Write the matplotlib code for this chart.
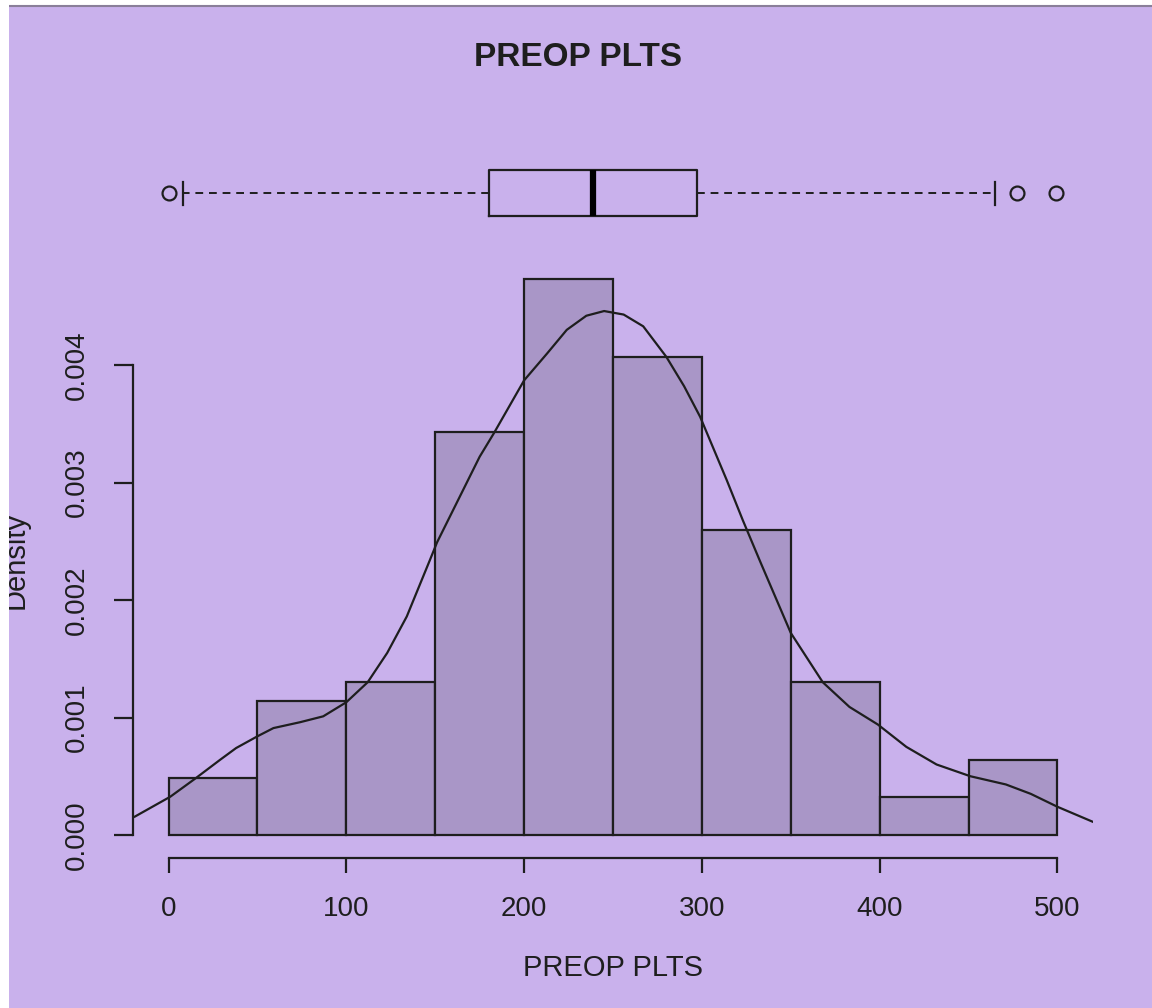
import matplotlib.pyplot as plt
from matplotlib.patches import Rectangle
from matplotlib.lines import Line2D

# данные гистограммы (плотность)
bin_edges = [0, 50, 100, 150, 200, 250, 300, 350, 400, 450, 500]
densities = [0.000485, 0.00114, 0.0013, 0.00343, 0.00473, 0.00407, 0.0026, 0.0013, 0.000323, 0.00064]

# кривая плотности (kde)
kde_x = [-19, 1, 15, 29, 38, 50, 59, 74, 87, 100, 112, 123, 134, 147, 151, 175,
         183, 200, 213, 224, 235, 245, 256, 267, 280, 290, 299, 314, 323, 333,
         350, 368, 383, 399, 415, 432, 451, 471, 485, 500, 521]
kde_y = [0.000156, 0.000326, 0.00048, 0.00064, 0.00074, 0.00084, 0.00091, 0.00096,
         0.00101, 0.00113, 0.0013, 0.00155, 0.00186, 0.00234, 0.00249, 0.00322,
         0.00342, 0.00387, 0.0041, 0.0043, 0.00442, 0.00446, 0.00443, 0.00433,
         0.00407, 0.00382, 0.00356, 0.00302, 0.00268, 0.00232, 0.00172, 0.0013,
         0.00109, 0.00094, 0.00075, 0.0006, 0.0005, 0.00043, 0.00035, 0.00024,
         0.000105]

# boxplot
box_stats = {'whislo': 8, 'q1': 180, 'med': 239, 'q3': 297, 'whishi': 465,
             'fliers': [0, 477, 499]}

x_ticks = [0, 100, 200, 300, 400, 500]
y_ticks = [0.000, 0.001, 0.002, 0.003, 0.004]
y_tick_labels = ['0.000', '0.001', '0.002', '0.003', '0.004']

bg = '#C9B1EC'
bar_col = '#A996C7'
ink = '#1E1E1E'

plt.rcParams['font.family'] = ['Liberation Sans', 'DejaVu Sans']

W, H = 1152, 1008
fig = plt.figure(figsize=(W / 100, H / 100), dpi=100, facecolor='white')

# фон как на скриншоте: белая полоса слева и сверху
fig.patches.append(Rectangle((9 / W, 0), 1 - 9 / W, (H - 7) / H, transform=fig.transFigure,
                             facecolor=bg, edgecolor='none', zorder=-10))
fig.lines.append(Line2D([0, 1], [(H - 6) / H] * 2, transform=fig.transFigure,
                        color='#8a7f99', linewidth=1.5, zorder=-5))

# основная гистограмма
ax = fig.add_axes([133 / W, (H - 858) / H, 960 / W, 601 / H])
ax.patch.set_alpha(0)
ax.bar(bin_edges[:-1], densities, width=50, align='edge', color=bar_col,
       edgecolor=ink, linewidth=1.6)
ax.plot(kde_x, kde_y, color=ink, linewidth=1.6)
ax.set_xlim(-20, 520)
ax.set_ylim(-0.000196, 0.00492)

for s in ['top', 'right']:
    ax.spines[s].set_visible(False)
ax.spines['left'].set_bounds(0, 0.004)
ax.spines['bottom'].set_bounds(0, 500)
for s in ['left', 'bottom']:
    ax.spines[s].set_color(ink)
    ax.spines[s].set_linewidth(1.6)

ax.set_xticks(x_ticks)
ax.set_yticks(y_ticks)
ax.set_yticklabels(y_tick_labels)
ax.tick_params(axis='x', length=11, width=1.6, color=ink, pad=16, labelsize=20, labelcolor=ink)
ax.tick_params(axis='y', length=14, width=1.6, color=ink, pad=17, labelsize=20, labelcolor=ink)
plt.setp(ax.get_yticklabels(), rotation=90, va='center')

# boxplot сверху
bax = fig.add_axes([133 / W, (H - 239) / H, 960 / W, 92 / H])
bax.patch.set_alpha(0)
bax.bxp([box_stats], positions=[1], widths=1, orientation='horizontal', capwidths=0.5,
        showfliers=True,
        boxprops=dict(color=ink, linewidth=1.6),
        whiskerprops=dict(color=ink, linewidth=1.4, linestyle=(0, (4, 3))),
        capprops=dict(color=ink, linewidth=1.6),
        medianprops=dict(color='black', linewidth=4.5),
        flierprops=dict(marker='o', markerfacecolor='none', markeredgecolor=ink,
                        markersize=10, markeredgewidth=1.6))
bax.set_xlim(-20, 520)
bax.set_ylim(0, 2)
bax.axis('off')

# подписи
fig.text(578 / W, 1 - 57 / H, 'PREOP PLTS', ha='center', va='center',
         fontsize=24, fontweight='bold', color=ink)
fig.text(613 / W, 1 - 968 / H, 'PREOP PLTS', ha='center', va='center',
         fontsize=21, color=ink)
fig.text(30 / W, 1 - 560 / H, 'Density', rotation=90, ha='right', va='center',
         fontsize=21, color=ink)
# белая полоса поверх обрезанной подписи
fig.patches.append(Rectangle((0, 0), 9 / W, 1, transform=fig.transFigure,
                             facecolor='white', edgecolor='none', zorder=10))

fig.savefig('out.png', dpi=100, facecolor=fig.get_facecolor())
